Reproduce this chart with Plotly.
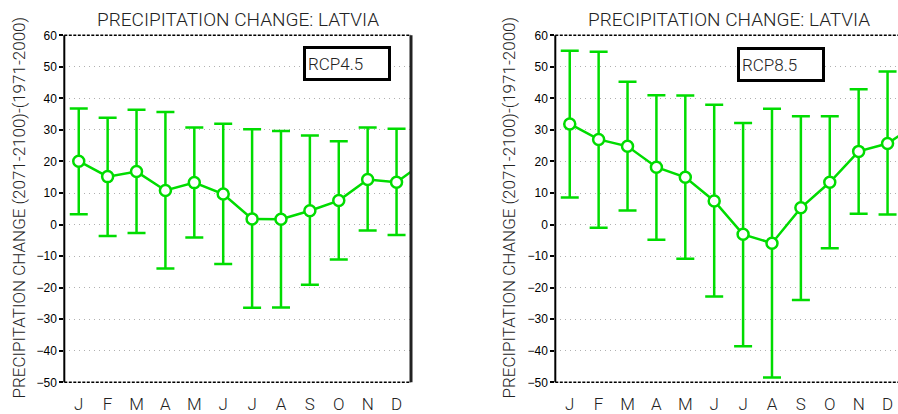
import plotly.graph_objects as go

W, H = 898, 414

months = ["J", "F", "M", "A", "M", "J", "J", "A", "S", "O", "N", "D"]

rcp45_mean = [20.1, 15.2, 16.8, 10.8, 13.3, 9.7, 1.8, 1.7, 4.4, 7.6, 14.3, 13.4]
rcp45_high = [36.8, 33.9, 36.4, 35.7, 30.8, 32.0, 30.2, 29.7, 28.2, 26.4, 30.8, 30.4]
rcp45_low = [3.3, -3.6, -2.7, -13.9, -4.1, -12.5, -26.4, -26.3, -19.1, -11.1, -1.9, -3.3]

rcp85_mean = [31.9, 27.0, 24.8, 18.2, 15.0, 7.5, -3.1, -5.9, 5.3, 13.4, 23.2, 25.7]
rcp85_high = [55.1, 54.8, 45.3, 41.0, 40.9, 38.0, 32.2, 36.7, 34.3, 34.3, 42.9, 48.5]
rcp85_low = [8.6, -1.0, 4.5, -4.8, -10.8, -22.8, -38.6, -48.5, -23.9, -7.5, 3.4, 3.2]

yticks = [-50, -40, -30, -20, -10, 0, 10, 20, 30, 40, 50, 60]

title_text = "PRECIPITATION CHANGE: LATVIA"
ytitle_text = "PRECIPITATION CHANGE (2071-2100)-(1971-2000)"
labels = ["RCP4.5", "RCP8.5"]

GREEN = "#00dc00"
THIN = "Roboto"


def px_x(p):
    return p / W


def px_y(p):
    return 1 - p / H


# plot area pixel geometry
Y_TOP, Y_BOT = 35.3, 382.3
L_X0, L_X1 = 64.3, 411.0
R_X0, R_X1 = 555.3, 898.0
PW = L_X1 - L_X0
STEP = PW / 12.0


def add_panel(fig, mean, hi, lo, xa, ya):
    # close the annual cycle with January again (continuing line to the border)
    m = mean + [mean[0]]
    h = hi + [hi[0]]
    l = lo + [lo[0]]
    xs = list(range(len(m)))
    fig.add_trace(go.Scatter(
        x=xs, y=m, xaxis=xa, yaxis=ya, mode="lines+markers",
        line=dict(color=GREEN, width=2.5),
        marker=dict(symbol="circle", size=11, color="white",
                    line=dict(color=GREEN, width=2.5)),
        error_y=dict(type="data", symmetric=False,
                     array=[a - b for a, b in zip(h, m)],
                     arrayminus=[b - c for b, c in zip(m, l)],
                     color=GREEN, thickness=2.5, width=9),
        showlegend=False, hoverinfo="skip",
    ))


fig = go.Figure()
add_panel(fig, rcp45_mean, rcp45_high, rcp45_low, "x", "y")
add_panel(fig, rcp85_mean, rcp85_high, rcp85_low, "x2", "y2")

ydom = [px_y(Y_BOT), px_y(Y_TOP)]

xcommon = dict(
    tickvals=list(range(12)), ticktext=months, showgrid=False, zeroline=False,
    ticks="outside", ticklen=6, tickcolor="rgba(0,0,0,0)",
    tickfont=dict(family=THIN, size=17, color="#222", weight=300),
    showline=False, fixedrange=True, automargin=False,
)
ycommon = dict(
    range=[-50, 60], tickvals=yticks, showgrid=True, gridcolor="#b0b0b0",
    griddash="1px,4px", gridwidth=1, zeroline=False, ticks="outside", ticklen=4,
    tickwidth=1.5, tickcolor="black",
    tickfont=dict(family="Liberation Sans", size=12, color="black"),
    showline=False, fixedrange=True, automargin=False,
)

fig.update_layout(
    width=W, height=H, autosize=False, margin=dict(l=0, r=0, t=0, b=0, pad=0),
    paper_bgcolor="white", plot_bgcolor="white", showlegend=False,
    xaxis=dict(domain=[px_x(L_X0), px_x(L_X1)], range=[-0.5, 11.5], anchor="y", **xcommon),
    yaxis=dict(domain=ydom, anchor="x", **ycommon),
    xaxis2=dict(domain=[px_x(R_X0), 1.0], range=[-0.5, -0.5 + (R_X1 - R_X0) / STEP],
                anchor="y2", **xcommon),
    yaxis2=dict(domain=ydom, anchor="x2", **ycommon),
)

shapes = []
for xr, yr, right in (("x", "y", True), ("x2", "y2", False)):
    xd, yd = xr + " domain", yr + " domain"
    for yy in (0, 1):
        shapes.append(dict(type="line", xref=xd, yref=yd, x0=0, x1=1, y0=yy, y1=yy,
                           line=dict(color="black", width=1.5, dash="3px,1.5px")))
    shapes.append(dict(type="line", xref=xd, yref=yd, x0=0, x1=0, y0=0, y1=1,
                       line=dict(color="black", width=2)))
    if right:
        shapes.append(dict(type="line", xref=xd, yref=yd, x0=1, x1=1, y0=0, y1=1,
                           line=dict(color="#222", width=3)))
fig.update_layout(shapes=shapes)

ann = []
for cx in (L_X0 + PW / 2, R_X0 + PW / 2):
    ann.append(dict(text=title_text, xref="paper", yref="paper", x=px_x(cx), y=px_y(19.5),
                    xanchor="center", yanchor="middle", showarrow=False,
                    font=dict(family=THIN, size=19, color="#222", weight=300)))
for cx in (18.5, 508.5):
    ann.append(dict(text=ytitle_text, xref="paper", yref="paper", x=px_x(cx), y=px_y(208),
                    xanchor="center", yanchor="middle", textangle=-90, showarrow=False,
                    font=dict(family=THIN, size=17, color="#222", weight=300)))
for (cx, cy), lab in zip(((346.5, 63.0), (780.5, 64.0)), labels):
    ann.append(dict(text=lab, xref="paper", yref="paper", x=px_x(cx), y=px_y(cy),
                    xanchor="center", yanchor="middle", showarrow=False,
                    width=78, height=25, align="left", borderpad=2, borderwidth=3,
                    bordercolor="black", bgcolor="white",
                    font=dict(family=THIN, size=17, color="#222", weight=300)))
fig.update_layout(annotations=ann)

fig.write_html("out.html")
